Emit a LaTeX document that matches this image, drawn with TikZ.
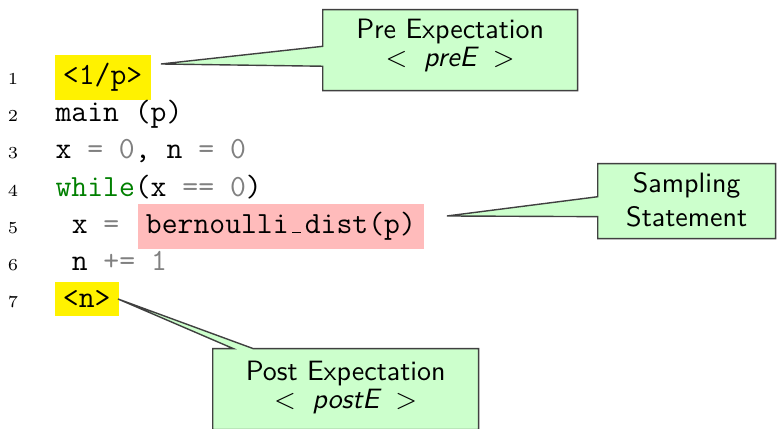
\documentclass[tikz,border=0pt]{standalone}
\usetikzlibrary{shapes.callouts}

\definecolor{notegreen}{RGB}{204,255,204}
\definecolor{hlyellow}{RGB}{255,242,0}
\definecolor{hlpink}{RGB}{255,187,187}
\definecolor{kwgreen}{RGB}{0,128,0}
\definecolor{opgray}{RGB}{128,128,128}

% underscore drawn as a short bar centred in one monospace cell
\newcommand{\ttbar}{\makebox[0.525em][c]{\vbox{\hrule width 0.3em height 0.4pt}}}

\tikzset{
  lineno/.style={anchor=base, inner sep=0pt, font=\fontsize{6}{7}\selectfont\rmfamily},
  code/.style={anchor=base west, inner sep=0pt, font=\fontsize{11}{13}\selectfont\ttfamily},
  mark yellow/.style={code, fill=hlyellow, inner sep=3pt},
  mark pink/.style={code, fill=hlpink, inner sep=3pt},
  note/.style={rectangle callout, anchor=north west, draw=black!75, line width=0.5pt,
    fill=notegreen, inner sep=0pt, align=center,
    font=\fontsize{10}{12}\selectfont\sffamily},
}

\begin{document}
\begin{tikzpicture}[x=0.35714pt, y=-0.35714pt]
  \clip (0,0) rectangle (777,429);
  \fill[white] (0,0) rectangle (777,429);

  % line numbers
  \node[lineno] (num1) at (13,84.5)  {1};
  \node[lineno] (num2) at (13,121.7) {2};
  \node[lineno] (num3) at (13,158.9) {3};
  \node[lineno] (num4) at (13,196.1) {4};
  \node[lineno] (num5) at (13,233.3) {5};
  \node[lineno] (num6) at (13,270.5) {6};
  \node[lineno] (num7) at (13,307.7) {7};

  % program text
  \node[mark yellow] (pre) at (54,84.5) {<1/p>};
  \node[code] (line2) at (55,121.7) {main (p)};
  \node[code] (line3) at (55,158.9)
    {x \textcolor{opgray}{= 0}, n \textcolor{opgray}{= 0}};
  \node[code] (line4) at (55,196.1)
    {\textcolor{kwgreen}{while}(x \textcolor{opgray}{== 0})};
  \node[code] (line5) at (71.2,233.3) {x \textcolor{opgray}{=}};
  \node[mark pink] (sample) at (137,233.3) {bernoulli\ttbar dist(p)};
  \node[code] (line6) at (71.2,270.5) {n \textcolor{opgray}{+= 1}};
  \node[mark yellow] (post) at (54,307.7) {<n>};

  % pointer tips beside the marked code
  \coordinate (preTip) at (161,64);
  \coordinate (sampleTip) at (447,216);
  \coordinate (postTip) at (118,299);

  % callouts
  \node[note, callout absolute pointer={(preTip)},
        text width=91.07pt, text height=10.36pt, text depth=18.57pt]
    (preNote) at (322,9)
    {Pre Expectation\\[-2pt] $< \mbox{\itshape preE} >$};
  \node[note, callout absolute pointer={(sampleTip)},
        text width=63.57pt, text height=10.36pt, text depth=16.43pt]
    (sampleNote) at (597,163)
    {Sampling\\ Statement};
  \node[note, callout absolute pointer={(postTip)},
        text width=95pt, text height=11.43pt, text depth=17.5pt]
    (postNote) at (212,348)
    {Post Expectation\\[-2pt] $< \mbox{\itshape postE} >$};
\end{tikzpicture}
\end{document}
